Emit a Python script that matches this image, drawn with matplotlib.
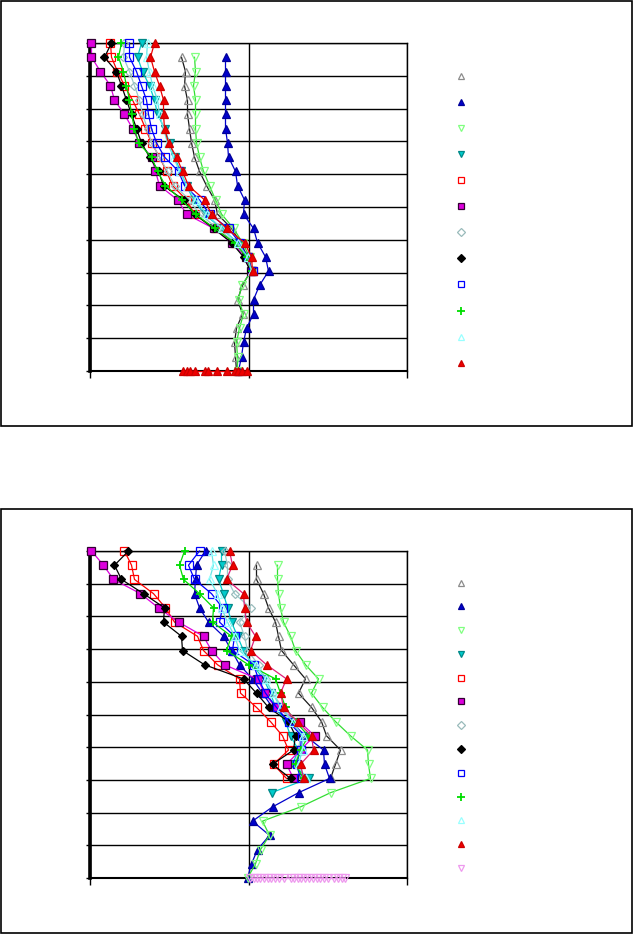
import numpy as np
import matplotlib
matplotlib.use('Agg')
import matplotlib.pyplot as plt
from matplotlib.lines import Line2D
from matplotlib.patches import Rectangle

nan = np.nan

# depth levels (one point per level)
levels = list(range(24))

# ---- upper chart ----
top_gray_tri = [nan, -6.7, -6.3, -6.4, -6.1, -6.1, -5.9, -5.7, -5.4, -4.9, -4.2, -3.4,
                -3.1, -1.7, -0.8, -0.1, 0.2, -0.6, -1.1, -0.6, -1.2, -1.4, -1.3, -1.2]
top_blue_tri = [nan, -2.3, -2.3, -2.3, -2.3, -2.3, -2.3, -2.1, -2.0, -1.3, -1.1, -0.4,
                -0.5, 0.5, 0.9, 1.7, 2.0, 1.1, 0.5, 0.5, -0.2, -0.5, -0.7, -1.0]
top_green_dn = [nan, -5.4, -5.3, -5.5, -5.3, -5.3, -5.3, -5.2, -4.9, -4.5, -3.9, -3.3,
                -2.7, -1.5, -0.6, 0.1, 0.3, -0.7, -1.0, -0.5, -0.9, -1.2, -1.1, -1.1]
top_cyan_dn = [-10.7, -11.1, -10.6, -9.9, -9.4, -9.1, -8.4, -7.9, -7.4, -6.8, -6.2, -5.5,
               -4.4, -2.7, -1.1, -0.1, 0.3]
top_red_sq = [-13.8, -13.7, -13.1, -12.4, -11.6, -10.9, -10.3, -9.7, -8.9, -8.2, -7.6,
              -6.2, -5.4, -3.4, -1.4, -0.1, 0.4]
top_mag_sq = [-15.7, -15.7, -14.8, -13.8, -13.4, -12.4, -11.6, -10.9, -9.7, -9.3, -8.9,
              -7.1, -6.2, -3.5, -1.7, -0.3, 0.2]
top_teal_dia = [-12.4, -12.5, -11.9, -11.4, -10.9, -10.6, -10.1, -9.7, -8.9, -8.1, -7.4,
                -5.9, -4.9, -3.1, -1.3, -0.2, 0.3]
top_black_dia = [-13.7, -14.4, -13.2, -12.7, -12.2, -11.7, -11.2, -10.7, -9.9, -9.0, -8.5,
                 -6.5, -5.4, -3.5, -1.7, -0.5, 0.2]
top_blue_sq = [-11.9, -11.9, -11.2, -10.7, -10.2, -10.0, -9.7, -9.2, -8.4, -7.0, -6.4,
               -4.9, -3.9, -2.0, -0.9, -0.1, 0.4]
top_green_plus = [-12.7, -13.0, -12.5, -12.2, -11.9, -11.7, -11.4, -11.0, -9.7, -9.1, -8.3,
                  -6.7, -5.3, -3.4, -1.4, -0.2, 0.3]
top_lcyan_tri = [-10.1, -10.2, -9.9, -9.6, -9.1, -8.9, -8.5, -8.1, -7.5, -6.9, -6.2,
                 -5.3, -4.2, -2.7, -1.1, -0.1, 0.3]
top_red_tri = [-9.4, -9.8, -9.4, -8.9, -8.5, -8.5, -8.4, -8.0, -7.2, -6.6, -6.0,
               -4.4, -3.7, -2.2, -0.4, 0.3, 0.4]
# red triangle readings sitting on the lowest level
top_red_tri_floor = [-6.6, -6.2, -5.9, -5.4, -4.4, -4.1, -3.2, -2.2, -1.4, -1.1, -0.7, -0.2]

# ---- lower chart ----
bot_gray_tri = [nan, 0.8, 0.8, 1.5, 2.0, 2.7, 3.0, 3.3, 4.5, 5.7, 5.0, 6.3, 7.3, 7.8,
                9.2, 8.7, 8.2]
bot_blue_tri = [-4.3, -5.2, -5.3, -5.4, -4.9, -4.0, -2.5, -1.7, -0.9, 0.4, 1.4, 2.4,
                4.2, 5.7, 7.5, 7.6, 8.1, 5.0, 2.4, 0.4, 2.1, 0.9, 0.3, -0.1]
bot_green_dn = [nan, 2.9, 2.9, 3.0, 3.2, 3.5, 4.2, 4.7, 5.7, 7.0, 6.3, 7.4, 8.7, 10.2,
                11.9, 12.0, 12.2, 8.2, 5.2, 1.4, 2.1, 1.2, 0.7, -0.1]
bot_cyan_dn = [-2.7, -2.7, -3.0, -2.5, -2.1, -1.7, -1.1, -0.5, 0.4, 1.5, 2.2, 2.7, 3.7,
               4.2, 5.0, 4.4, 6.0, 2.3]
bot_red_sq = [-12.4, -11.7, -11.4, -9.5, -8.3, -7.4, -5.1, -4.5, -3.1, -0.9, -0.8, 0.8,
              2.2, 3.4, 4.0, 2.5, 3.8]
bot_mag_sq = [-15.7, -14.5, -13.5, -10.8, -9.0, -7.0, -4.5, -3.7, -2.4, 0.9, 1.6, 2.7,
              5.1, 6.6, 5.2, 3.8, 4.5]
bot_teal_dia = [-2.4, -2.1, -2.1, -1.4, 0.2, -0.9, -0.4, -0.1, 1.0, 1.7, 2.4, 3.4, 4.4,
                5.2, 5.0, 4.7, 5.4]
bot_black_dia = [-12.0, -13.4, -12.7, -10.5, -8.4, -8.5, -6.7, -6.6, -4.4, -0.5, 0.8, 2.0,
                 4.0, 4.7, 4.5, 2.4, 4.2]
bot_blue_sq = [-4.9, -6.0, -5.4, -3.7, -2.6, -2.9, -1.4, -1.6, 0.5, 1.0, 1.7, 2.8, 4.0,
               5.3, 5.2, 4.8, 5.2]
bot_green_plus = [-6.4, -6.9, -6.5, -4.9, -3.5, -3.6, -1.7, -2.2, 0.0, 2.7, 3.2, 3.7, 4.7,
                  6.0, 5.2, 4.7, 5.5]
bot_lcyan_tri = [-3.7, -3.5, -3.9, -3.1, -2.7, -2.1, -1.4, -0.9, 0.7, 1.7, 2.4, 3.2, 4.4,
                 5.4, 5.4, 5.0, 5.7]
bot_red_tri = [-1.9, -1.6, -2.2, -0.5, -0.4, -0.2, 0.7, 0.2, 1.8, 3.8, 3.2, 3.5, 4.9,
               6.3, 6.5, 5.2, 5.5]
# violet series, all readings on the lowest level
bot_violet_floor = [0.1, 0.5, 0.8, 1.1, 1.5, 1.9, 2.2, 2.6, 3.0, 3.5, 4.2, 4.5, 4.9, 5.2,
                    5.6, 6.0, 6.4, 6.8, 7.1, 7.5, 7.9, 8.5, 8.9, 9.3, 9.6]

# styles: (marker, face, edge, line colour)
styles = {
    'gray_tri':   ('^', 'none', '#8c8c8c', '#1a1a1a'),
    'blue_tri':   ('^', '#0000cc', '#000099', '#0000cc'),
    'green_dn':   ('v', 'none', '#80ff80', '#33dd33'),
    'cyan_dn':    ('v', '#00cccc', '#008888', '#00cccc'),
    'red_sq':     ('s', 'none', '#ff0000', '#ff0000'),
    'mag_sq':     ('s', '#dd00dd', '#330033', '#dd00dd'),
    'teal_dia':   ('D', 'none', '#99bbbb', '#99cccc'),
    'black_dia':  ('D', '#000000', '#000000', '#000000'),
    'blue_sq':    ('s', 'none', '#0000ff', '#0000ff'),
    'green_plus': ('+', '#00dd00', '#00dd00', '#00dd00'),
    'lcyan_tri':  ('^', 'none', '#99ffff', '#66e6e6'),
    'red_tri':    ('^', '#ee0000', '#cc0000', '#ee0000'),
    'violet_dn':  ('v', 'none', '#ee99ee', '#ee99ee'),
}

top_series = [('gray_tri', top_gray_tri), ('blue_tri', top_blue_tri),
              ('green_dn', top_green_dn), ('cyan_dn', top_cyan_dn),
              ('red_sq', top_red_sq), ('mag_sq', top_mag_sq),
              ('teal_dia', top_teal_dia), ('black_dia', top_black_dia),
              ('blue_sq', top_blue_sq), ('green_plus', top_green_plus),
              ('lcyan_tri', top_lcyan_tri), ('red_tri', top_red_tri)]
bot_series = [('gray_tri', bot_gray_tri), ('blue_tri', bot_blue_tri),
              ('green_dn', bot_green_dn), ('cyan_dn', bot_cyan_dn),
              ('red_sq', bot_red_sq), ('mag_sq', bot_mag_sq),
              ('teal_dia', bot_teal_dia), ('black_dia', bot_black_dia),
              ('blue_sq', bot_blue_sq), ('green_plus', bot_green_plus),
              ('lcyan_tri', bot_lcyan_tri), ('red_tri', bot_red_tri)]

MS = 5.3


def marker_kw(key, scale=1.0):
    m, fc, ec, lc = styles[key]
    size = MS - 1.2 if m == 'D' else (MS + 1 if m == '+' else MS)
    return dict(marker=m, markersize=size * scale, markerfacecolor=fc,
                markeredgecolor=ec, markeredgewidth=0.9 if m != '+' else 1.3)


def draw_series(ax, key, xs, ys=None, lcolor=None):
    lc = styles[key][3]
    if ys is None:
        ys = levels[:len(xs)]
    ax.plot(xs, ys, color=lcolor or lc, lw=0.9, clip_on=False, zorder=3,
            **marker_kw(key))


def setup(ax):
    ax.set_xlim(-15.85, 15.85)
    ax.set_ylim(23, 0)
    ax.set_xticks([-15.85, 0, 15.85])
    ax.set_yticks(np.linspace(0, 23, 11))
    ax.grid(True, color='black', lw=1.0)
    ax.set_axisbelow(True)
    ax.tick_params(labelbottom=False, labelleft=False, direction='out',
                   length=5, width=1.0, color='black')
    ax.tick_params(axis='y', length=3)
    for s in ax.spines.values():
        s.set_color('black')
        s.set_linewidth(1.0)
    ax.spines['left'].set_linewidth(2.6)
    ax.spines['bottom'].set_linewidth(1.5)


def add_legend(ax, keys, y_top, spacing):
    handles = [Line2D([], [], linestyle='none', **marker_kw(k, 0.9)) for k in keys]
    ax.legend(handles, [' '] * len(keys), loc='upper left', frameon=False,
              bbox_to_anchor=(1.128, y_top), fontsize=8,
              labelspacing=spacing, handlelength=1.0, borderpad=0.2)


fig = plt.figure(figsize=(6.33, 9.34), dpi=100)

# panel frames
fig.add_artist(Rectangle((1 / 633, 1 - 426 / 934), 630.5 / 633, 425 / 934,
                         transform=fig.transFigure, fill=False, ec='black', lw=1.2))
fig.add_artist(Rectangle((1 / 633, 1 / 934), 630.5 / 633, 424.5 / 934,
                         transform=fig.transFigure, fill=False, ec='black', lw=1.2))

ax1 = fig.add_axes([90 / 633, 1 - 371 / 934, 317 / 633, 328 / 934])
setup(ax1)
for key, xs in top_series:
    draw_series(ax1, key, xs)
draw_series(ax1, 'red_tri', top_red_tri_floor, ys=[23] * len(top_red_tri_floor))
add_legend(ax1, [k for k, _ in top_series], 0.937, 1.45)

ax2 = fig.add_axes([90 / 633, 1 - 878 / 934, 317 / 633, 327 / 934])
setup(ax2)
for key, xs in bot_series:
    draw_series(ax2, key, xs, lcolor='#e0207a' if key == 'red_tri' else None)
draw_series(ax2, 'violet_dn', bot_violet_floor, ys=[23] * len(bot_violet_floor))
add_legend(ax2, [k for k, _ in bot_series] + ['violet_dn'], 0.94, 1.24)

fig.savefig('out.png', dpi=100)
